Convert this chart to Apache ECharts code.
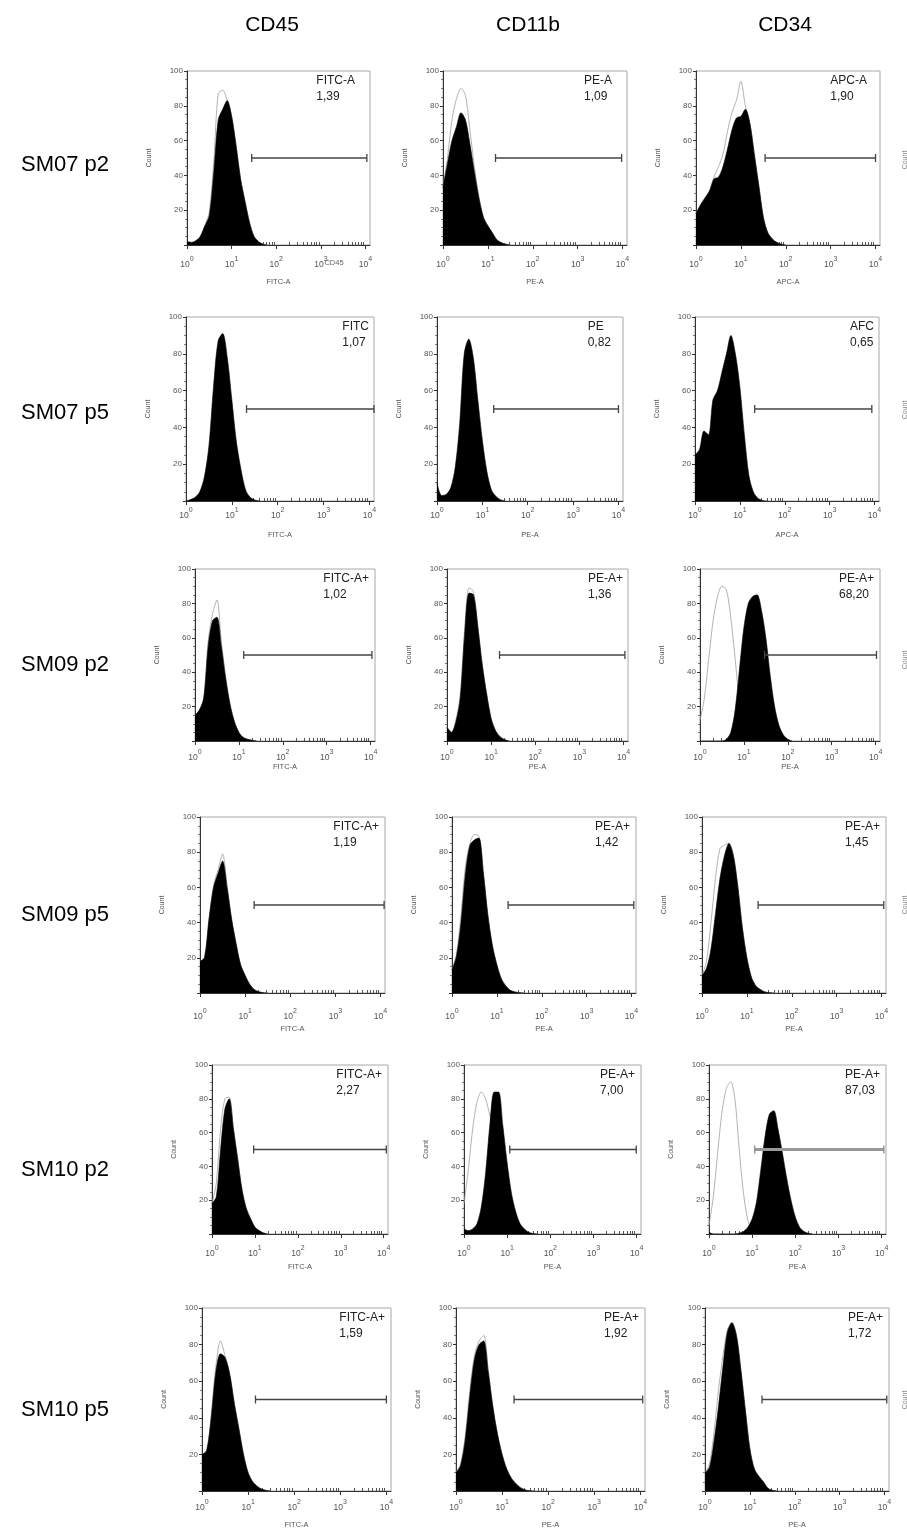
<!DOCTYPE html>
<html><head><meta charset="utf-8">
<script src="https://cdn.jsdelivr.net/npm/echarts@6/dist/echarts.min.js"></script>
<style>html,body{margin:0;padding:0;background:#fff}#c{width:907px;height:1535px}</style>
</head><body><div id="c"></div><script>
// ---------- data ----------
const markers = ['CD45', 'CD11b', 'CD34'];
const sampleNames = ['SM07 p2', 'SM07 p5', 'SM09 p2', 'SM09 p5', 'SM10 p2', 'SM10 p5'];
const xTickValues = [0, 1, 2, 3, 4];          // log10 decades 10^0 .. 10^4
// shared histogram bin positions (log10 decades)
const LOGX = [0.0,0.1,0.2,0.3,0.4,0.5,0.6,0.7,0.8,0.9,1.0,1.1,1.2,1.3,1.4,1.5,1.6,1.7,1.8,1.9,2.0,2.1,2.2,2.3,2.4,2.5];

const tagText = [
  ['FITC-A', 'PE-A', 'APC-A'],
  ['FITC', 'PE', 'AFC'],
  ['FITC-A+', 'PE-A+', 'PE-A+'],
  ['FITC-A+', 'PE-A+', 'PE-A+'],
  ['FITC-A+', 'PE-A+', 'PE-A+'],
  ['FITC-A+', 'PE-A+', 'PE-A+']
];
const pctText = [
  ['1,39', '1,09', '1,90'],
  ['1,07', '0,82', '0,65'],
  ['1,02', '1,36', '68,20'],
  ['1,19', '1,42', '1,45'],
  ['2,27', '7,00', '87,03'],
  ['1,59', '1,92', '1,72']
];
const xAxisNames = [
  ['FITC-A', 'PE-A', 'APC-A'],
  ['FITC-A', 'PE-A', 'APC-A'],
  ['FITC-A', 'PE-A', 'PE-A'],
  ['FITC-A', 'PE-A', 'PE-A'],
  ['FITC-A', 'PE-A', 'PE-A'],
  ['FITC-A', 'PE-A', 'PE-A']
];

// stained sample (black filled) histograms
const sm07p2_cd45  = [2,1.5,2.5,5,11,17,42,72,78,83,74,57,38,25,13,5,2,0.5,0];
const sm07p2_cd11b = [33,47,60,68,76,72,58,42,27,16,11,7,3,1.3,0.5,0];
const sm07p2_cd34  = [18,23,27,31,38,39,45,55,66,73,74,78,70,52,34,16,7,3.5,1.5,0.5,0];
const sm07p5_cd45  = [0,0.8,2,5,13,30,62,87,91,78,55,32,17,6,2,0.5,0];
const sm07p5_cd11b = [10,3,3.5,7,18,42,80,88,78,55,33,16,6,2.5,0.7,0];
const sm07p5_cd34  = [25,28,38,36,55,60,70,80,90,80,62,36,14,5,1.5,0.3,0];
const sm09p2_cd45  = [15,18,25,55,70,72,55,36,21,11,5,2,1,0.4,0];
const sm09p2_cd11b = [8,5,11,25,62,86,85,66,44,27,13,6,2.5,0.8,0];
const sm09p2_cd34  = [0,0,0,0,0,0,1,5,18,42,66,80,84,85,76,60,38,20,9,3.5,1,0];
const sm09p5_cd45  = [18,20,42,60,68,75,60,42,28,16,10,5,2,0.7,0.2,0];
const sm09p5_cd11b = [13,21,40,68,84,87,88,68,44,27,16,8,4,1.5,0.6,0.2,0];
const sm09p5_cd34  = [10,14,25,45,65,78,85,78,60,37,20,9,4,2,0.6,0.2,0];
const sm10p2_cd45  = [18,22,50,74,80,62,44,26,15,9,4,2,0.6,0];
const sm10p2_cd11b = [3,2,3,6,16,36,65,84,84,64,42,24,13,6,3,1,0.3,0];
const sm10p2_cd34  = [1,0,0,0,0,0,0,0.5,1.5,4,9,19,38,58,71,73,62,48,33,20,10,4,1.5,0.4,0];
const sm10p5_cd45  = [20,22,40,65,75,73,64,48,34,20,10,5,2.5,1,0.3,0];
const sm10p5_cd11b = [10,14,28,52,72,80,82,65,46,31,20,12,7,4,1.8,0.6,0.1,0];
const sm10p5_cd34  = [10,13,27,46,68,87,92,85,66,44,23,12,8,5,1.5,0.4,0];

// isotype control (grey outline) histograms
const ct07p2_cd45  = [2,1.5,2.5,5,11,19,48,87,89,83,74,57,38,25,13,5,2,0.5,0];
const ct07p2_cd11b = [33,50,72,84,90,86,66,45,28,16,11,7,3,1.3,0.5,0];
const ct07p2_cd34  = [18,23,27,31,39,45,52,65,76,83,94,80,70,52,34,16,7,3.5,1.5,0.5,0];
const ct09p2_cd45  = [15,18,25,58,74,82,58,37,21,11,5,2,1,0.4,0];
const ct09p2_cd11b = [8,5,12,27,65,89,87,66,44,27,13,6,2.5,0.8,0];
const ct09p2_cd34  = [12,25,48,70,84,90,88,72,48,22,8,3,1,0];
const ct09p5_cd45  = [18,20,42,61,70,79,61,42,28,16,10,5,2,0.7,0.2,0];
const ct09p5_cd11b = [13,22,44,72,85,90,89,68,44,27,16,8,4,1.5,0.6,0.2,0];
const ct09p5_cd34  = [10,18,40,65,82,84,85,78,60,37,20,9,4,2,0.6,0.2,0];
const ct10p2_cd45  = [18,30,62,80,81,62,44,26,15,9,4,2,0.6,0];
const ct10p2_cd11b = [18,38,62,78,84,80,70,60,45,25,12,5,2,0.5,0];
const ct10p2_cd34  = [5,22,48,72,86,90,80,50,24,8,2,0.5,0];
const ct10p5_cd45  = [20,22,42,68,82,74,64,48,34,20,10,5,2.5,1,0.3,0];
const ct10p5_cd11b = [10,15,30,55,74,82,85,66,46,31,20,12,7,4,1.8,0.6,0.1,0];
const ct10p5_cd34  = [10,15,32,55,74,88,92,85,66,44,23,12,8,5,1.5,0.4,0];

// positive gate: [start decade, end decade] at count 50
const gateLevel = 50;
const gates = [
  [[1.45,4.03],[1.17,3.98],[1.54,4.0]],
  [[1.32,4.1],[1.25,4.0],[1.33,3.94]],
  [[1.11,4.03],[1.19,4.03],[1.47,4.02]],
  [[1.2,4.08],[1.25,4.05],[1.25,4.05]],
  [[0.97,4.06],[1.06,3.99],[1.06,4.05]],
  [[1.16,4.0],[1.26,4.05],[1.27,4.05]]
];

const sampleData = [
  [sm07p2_cd45, sm07p2_cd11b, sm07p2_cd34],
  [sm07p5_cd45, sm07p5_cd11b, sm07p5_cd34],
  [sm09p2_cd45, sm09p2_cd11b, sm09p2_cd34],
  [sm09p5_cd45, sm09p5_cd11b, sm09p5_cd34],
  [sm10p2_cd45, sm10p2_cd11b, sm10p2_cd34],
  [sm10p5_cd45, sm10p5_cd11b, sm10p5_cd34]
];
const controlData = [
  [ct07p2_cd45, ct07p2_cd11b, ct07p2_cd34],
  [null, null, null],
  [ct09p2_cd45, ct09p2_cd11b, ct09p2_cd34],
  [ct09p5_cd45, ct09p5_cd11b, ct09p5_cd34],
  [ct10p2_cd45, ct10p2_cd11b, ct10p2_cd34],
  [ct10p5_cd45, ct10p5_cd11b, ct10p5_cd34]
];

// ---------- layout (pixels) ----------
const rowTB = [[71,245],[317,501],[569,741],[817,993],[1065,1234],[1308,1491]];
const colLR = [
  [[187,370],[443,627],[696,880]],
  [[186,374],[437,623],[695,879]],
  [[195,375],[447,628],[700,880]],
  [[200,385],[452,636],[702,886]],
  [[212,388],[464,641],[709,886]],
  [[202,391],[456,645],[705,889]]
];
const tagRightPad = [
  [15,15,13],
  [5,12,5],
  [6,5,6],
  [6,6,6],
  [6,6,6],
  [6,6,6]
];
const rowLabelY = [165,413,665,915,1170,1410];
const labelMargin = [11,6,8,15,11,8];
const nameGap = [33,30,21,32,29,30];
const XMAX = 4.1;
const FONT = '"Liberation Sans", Arial, Helvetica, sans-serif';

// log-spaced minor tick positions (axis decoration)
const minorTicks = [];
for (let d = 0; d < 4; d++) for (let k = 2; k <= 9; k++) minorTicks.push(d + Math.log10(k));

const grids = [], xAxes = [], yAxes = [], series = [], graphics = [];
const pairs = arr => arr.map((v, k) => [LOGX[k], v]);

for (let r = 0; r < 6; r++) {
  for (let c = 0; c < 3; c++) {
    const i = r * 3 + c;
    const [T, B] = rowTB[r];
    const [L, R] = colLR[r][c];
    grids.push({ left: L, top: T, width: R - L, height: B - T, show: true,
      borderColor: '#a8a8a8', borderWidth: 1, backgroundColor: 'transparent' });
    xAxes.push({
      gridIndex: i, type: 'value', min: 0, max: XMAX, position: 'bottom',
      axisLine: { show: true, onZero: false, lineStyle: { color: '#333', width: 1 } },
      axisTick: { show: true, customValues: xTickValues, length: 4, lineStyle: { color: '#333' } },
      axisLabel: {
        customValues: xTickValues, margin: labelMargin[r], color: '#555',
        formatter: v => '{b|10}{s|' + v + '}',
        rich: {
          b: { fontSize: 8.5, color: '#555', fontFamily: FONT, verticalAlign: 'bottom', lineHeight: 13 },
          s: { fontSize: 7, color: '#555', fontFamily: FONT, verticalAlign: 'top', lineHeight: 13 }
        }
      },
      splitLine: { show: false },
      name: xAxisNames[r][c], nameLocation: 'middle', nameGap: nameGap[r],
      nameTextStyle: { fontSize: 7.5, color: '#555', fontFamily: FONT }
    });
    xAxes.push({
      gridIndex: i, type: 'value', min: 0, max: XMAX, position: 'bottom',
      axisLine: { show: false },
      axisTick: { show: true, inside: true, customValues: minorTicks, length: 3, lineStyle: { color: '#555' } },
      axisLabel: { show: false }, splitLine: { show: false }
    });
    yAxes.push({
      gridIndex: i, type: 'value', min: 0, max: 100, interval: 20,
      axisLine: { show: true, lineStyle: { color: '#333' } },
      axisTick: { show: true, length: 3, lineStyle: { color: '#333' } },
      minorTick: { show: true, splitNumber: 4, length: 2, lineStyle: { color: '#777' } },
      axisLabel: { fontSize: 8, color: '#555', fontFamily: FONT, margin: 4,
        formatter: v => (v === 0 ? '' : String(v)) },
      splitLine: { show: false }, minorSplitLine: { show: false },
      name: 'Count', nameLocation: 'middle', nameGap: 34, nameRotate: 90,
      nameTextStyle: { fontSize: 7, color: '#555', fontFamily: FONT }
    });
    const ctl = controlData[r][c];
    if (ctl) {
      series.push({ type: 'line', xAxisIndex: 2 * i, yAxisIndex: i, data: pairs(ctl),
        symbol: 'none', smooth: 0.3, silent: true, z: 2,
        lineStyle: { color: '#a0a0a0', width: 0.8 } });
    }
    series.push({ type: 'line', xAxisIndex: 2 * i, yAxisIndex: i, data: pairs(sampleData[r][c]),
      symbol: 'none', smooth: 0.3, silent: true, z: 3,
      lineStyle: { color: '#000', width: 0.6 }, areaStyle: { color: '#000', opacity: 1 } });
    const g = gates[r][c];
    const thick = (r === 4 && c === 2);
    series.push({ type: 'line', xAxisIndex: 2 * i, yAxisIndex: i,
      data: [[g[0], gateLevel], [g[1], gateLevel]], silent: true, z: 4,
      symbol: 'rect', symbolSize: [1.3, 8],
      itemStyle: { color: thick ? '#888' : '#444' },
      lineStyle: { color: thick ? '#999' : '#444', width: thick ? 3 : 1.3 } });
    graphics.push({ type: 'text', right: 907 - R + tagRightPad[r][c], top: T + 2, silent: true,
      style: { text: tagText[r][c] + '\n' + pctText[r][c], font: '12px ' + FONT,
        fill: '#222', textAlign: 'left', lineHeight: 16 } });
  }
}

markers.forEach((m, k) => graphics.push({ type: 'text', x: [272, 528, 785][k], y: 25,
  style: { text: m, font: '21px ' + FONT, fill: '#000', textAlign: 'center', textVerticalAlign: 'middle' } }));
sampleNames.forEach((s, k) => graphics.push({ type: 'text', x: 21, y: rowLabelY[k],
  style: { text: s, font: '22px ' + FONT, fill: '#000', textAlign: 'left', textVerticalAlign: 'middle' } }));
// stray overlapping label in the first panel
graphics.push({ type: 'text', x: 334, y: 263,
  style: { text: 'CD45', font: '7.5px ' + FONT, fill: '#666', textAlign: 'center', textVerticalAlign: 'middle' } });
// clipped axis titles of the next column at the right edge
[160, 410, 660, 905, 1400].forEach(y => graphics.push({ type: 'text', x: 905, y: y, rotation: Math.PI / 2,
  style: { text: 'Count', font: '7px ' + FONT, fill: '#888', textAlign: 'center', textVerticalAlign: 'middle' } }));

const chart = echarts.init(document.getElementById('c'), null, { renderer: 'canvas' });
chart.setOption({
  animation: false, backgroundColor: '#fff',
  textStyle: { fontFamily: FONT },
  grid: grids, xAxis: xAxes, yAxis: yAxes, series: series, graphic: graphics
});
</script></body></html>
